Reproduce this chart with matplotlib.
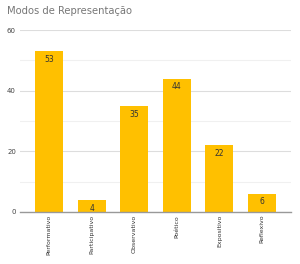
import matplotlib
matplotlib.use("Agg")
import matplotlib.pyplot as plt

categories = ["Performativo", "Participativo", "Observativo", "Poético", "Expositivo", "Reflexivo"]
values = [53, 4, 35, 44, 22, 6]
yticks = [0, 20, 40, 60]

fig = plt.figure(figsize=(3.0, 2.64), dpi=100)
ax = fig.add_axes([0.067, 0.197, 0.903, 0.689])
x = list(range(len(categories)))
bars = ax.bar(x, values, width=0.66, color="#FFC000", zorder=3)
for xi, v in zip(x, values):
    ax.text(xi, v - 1.2, str(v), ha="center", va="top", fontsize=5.5, color="#333333", zorder=4)

ax.set_xlim(-0.68, 5.68)
ax.set_ylim(0, 60)
ax.set_yticks(yticks)
ax.set_yticks([10, 30, 50], minor=True)
ax.grid(axis="y", which="major", color="#dddddd", linewidth=0.8, zorder=0)
ax.grid(axis="y", which="minor", color="#f0f0f0", linewidth=0.8, zorder=0)
ax.set_xticks(x)
ax.set_xticklabels(categories, rotation=90, fontsize=4.5, color="#333333")
ax.tick_params(axis="y", which="both", length=0, labelsize=5, labelcolor="#444444", pad=3)
ax.tick_params(axis="x", length=0, pad=2)
for s in ["top", "right", "left"]:
    ax.spines[s].set_visible(False)
ax.spines["bottom"].set_color("#999999")
ax.spines["bottom"].set_linewidth(1.0)
ax.spines["bottom"].set_zorder(5)

fig.text(0.023, 0.958, "Modos de Representação", fontsize=7.2, color="#777777", ha="left", va="center")
fig.savefig("out.png", dpi=100)
